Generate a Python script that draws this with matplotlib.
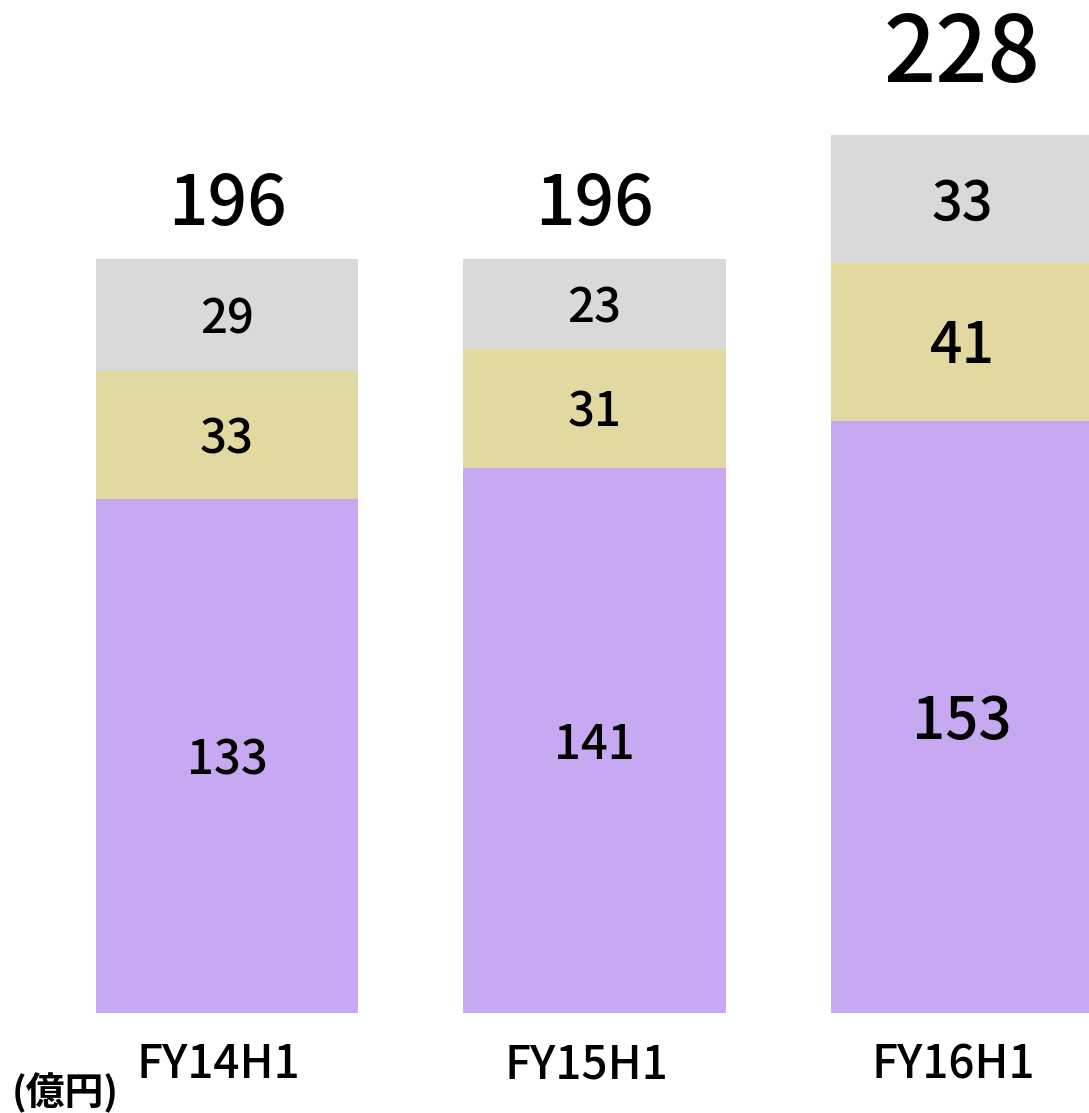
import matplotlib
matplotlib.use('Agg')
import matplotlib.pyplot as plt

plt.rcParams['font.family'] = ['Noto Sans CJK JP', 'DejaVu Sans']

# ************ DATA ***************
PERIODS = ['FY14H1', 'FY15H1', 'FY16H1']
BOTTOM = [133, 141, 153]   # purple
MIDDLE = [33, 31, 41]      # tan
TOP = [29, 23, 33]         # gray
TOTALS = [196, 196, 228]

COLORS = ['#C7A9F1', '#E2D8A1', '#D9D9D9']

# font sizes per bar (last bar is emphasised)
SEG_SIZES = [[34, 34, 34], [34, 34, 34], [42, 41, 39]]
TOTAL_SIZES = [50, 50, 66]
TOTAL_Y = [209.0, 209.0, 247.5]

fig = plt.figure(figsize=(10.89, 11.13), dpi=100)
ax = fig.add_axes([0, 0, 1, 1])

x = list(range(len(PERIODS)))
width = 0.713

ax.bar(x, BOTTOM, width, color=COLORS[0])
ax.bar(x, MIDDLE, width, bottom=BOTTOM, color=COLORS[1])
base = [a + b for a, b in zip(BOTTOM, MIDDLE)]
ax.bar(x, TOP, width, bottom=base, color=COLORS[2])

# labels sit a touch below the segment middle
nudge = 1.4
for i in x:
    segs = [(BOTTOM[i], 0), (MIDDLE[i], BOTTOM[i]), (TOP[i], base[i])]
    for k, (v, b) in enumerate(segs):
        ax.text(i, b + v / 2 - nudge, str(v), ha='center', va='center',
                fontsize=SEG_SIZES[i][k], fontweight='medium', color='black')
    ax.text(i, TOTAL_Y[i], str(TOTALS[i]), ha='center', va='center',
            fontsize=TOTAL_SIZES[i], fontweight='medium', color='black')
    # category names sit slightly left of the bar centre
    ax.text(i - 0.023, -13.5, PERIODS[i], ha='center', va='center',
            fontsize=33, fontweight='medium', color='black')

ax.text(-0.44, -20.8, '(億円)', ha='center', va='center',
        fontsize=28, fontweight='bold', color='black')

ax.set_xlim(-0.6177, 2.3456)
ax.set_ylim(-26.0, 262.0)
ax.axis('off')

fig.savefig('out.png', dpi=100)
